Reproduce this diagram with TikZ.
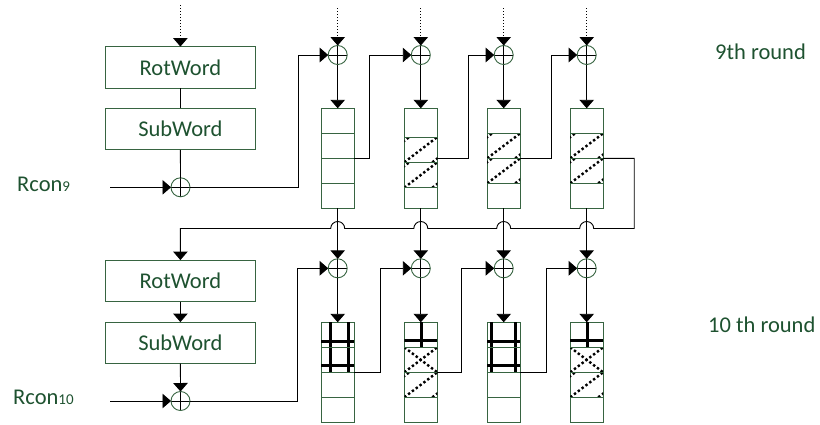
\documentclass[tikz,border=0pt]{standalone}
\usepackage{fontspec}
\setmainfont{Carlito}
\usetikzlibrary{arrows.meta,calc}
\definecolor{tgreen}{RGB}{30,82,48}
\definecolor{bgreen}{RGB}{55,100,65}
\tikzset{
 fnbox/.style={draw=bgreen, line width=1pt, minimum width=149.5pt, minimum height=41.5pt, inner sep=0pt, outer sep=0pt, text=tgreen, font=\fontsize{22.5}{26}\selectfont},
 word/.style={draw=bgreen, line width=1pt, minimum width=33pt, minimum height=100pt, inner sep=0pt, outer sep=0pt},
 xor/.style={circle, draw=bgreen, line width=0.9pt, minimum size=19pt, inner sep=0pt, outer sep=0pt,
   path picture={\draw[black,line width=0.9pt] (path picture bounding box.north) -- (path picture bounding box.south) (path picture bounding box.west) -- (path picture bounding box.east);}},
 wire/.style={line width=0.9pt, black},
 arr/.style={wire, -{Triangle[width=14.5pt,length=8.5pt]}},
 dotarr/.style={arr, line width=0.8pt, dash pattern=on 1pt off 2pt},
 divider/.style={draw=bgreen, line width=1pt},
 hatch/.style={line width=2.4pt, dash pattern=on 2.4pt off 2.4pt},
 gridln/.style={line width=3pt},
 lbl/.style={text=tgreen, font=\fontsize{22.5}{26}\selectfont, inner sep=0pt},
}
\newcommand{\hcell}[3]{%
 \begin{scope}
 \clip ($(#1.north west)+(0,#2)$) rectangle ($(#1.north east)+(0,#3)$);
 \foreach \s in {-28,0,28}
   \draw[hatch] ($(#1.north west)+(\s,#3)$) -- ($(#1.north east)+(\s,#2)$);
 \end{scope}}
\newcommand{\xcell}[3]{%
 \begin{scope}
 \clip ($(#1.north west)+(0,#2)$) rectangle ($(#1.north east)+(0,#3)$);
 \draw[hatch] ($(#1.north west)+(0,#3)$) -- ($(#1.north east)+(0,#2)$);
 \draw[hatch] ($(#1.north west)+(0,#2)$) -- ($(#1.north east)+(0,#3)$);
 \end{scope}}
\newcommand{\gcell}[3]{%
 \begin{scope}
 \clip (#1.north west) rectangle ($(#1.north east)+(0,50)$);
 \draw[gridln] ($(#1.north west)+(#2,0)$) -- ++(0,50) ($(#1.north west)+(#3,0)$) -- ++(0,50)
   ($(#1.north west)+(0,18.7)$) -- ++(33,0) ($(#1.north west)+(0,42.7)$) -- ++(33,0);
 \end{scope}}
\newcommand{\pcell}[1]{%
 \begin{scope}
 \clip (#1.north west) rectangle ($(#1.north east)+(0,25)$);
 \draw[gridln] ($(#1.north)+(1,0)$) -- ++(0,25) ($(#1.north west)+(0,17.7)$) -- ++(33,0);
 \end{scope}}
\newcommand{\divs}[4]{%
 \foreach \o in {#2,#3,#4}
   \draw[divider] ($(#1.north west)+(0,\o)$) -- ($(#1.north east)+(0,\o)$);}
\begin{document}
\begin{tikzpicture}[x=1pt,y=-1pt]
\useasboundingbox (0,0) rectangle (820,424);
% left side
\node[fnbox] (rot1) at (180.4,67.3) {RotWord};
\node[fnbox] (sub1) at (180.4,129) {SubWord};
\node[xor] (r9) at (180.5,187.3) {};
\node[fnbox] (rot2) at (180.4,280.8) {RotWord};
\node[fnbox] (sub2) at (180.4,342.8) {SubWord};
\node[xor] (r10) at (180.5,401) {};
\coordinate (top0) at (180.4,5);
\coordinate (r9in) at (110,187.3);
\coordinate (r10in) at (110,401);
\draw[dotarr] (top0) -- (rot1.north);
\draw[wire] (rot1.south) -- (sub1.north);
\draw[wire] (sub1.south) -- (r9.north);
\draw[arr] (r9in) -- (r9.west);
\draw[arr] (rot2.south) -- (sub2.north);
\draw[arr] (sub2.south) -- (r10.north);
\draw[arr] (r10in) -- (r10.west);
\node[lbl, anchor=base west] (rc9) at (17,191) {Rcon{\fontsize{15}{17}\selectfont 9}};
\node[lbl, anchor=base west] (rc10) at (13,404.7) {Rcon{\fontsize{15}{17}\selectfont 10}};
\node[lbl, anchor=base west] (rd9) at (715,59.3) {9th round};
\node[lbl, anchor=base west] (rd10) at (708,332) {10 th round};
% columns
\foreach \i/\cx in {1/337.7,2/420.8,3/503.7,4/586.7}{
 \node[xor] (x\i) at (\cx,55) {};
 \node[word] (t\i) at (\cx,158.3) {};
 \node[xor] (y\i) at (\cx,268.3) {};
 \node[word] (b\i) at (\cx,372.3) {};
 \coordinate (d\i) at (\cx,8);
 \draw[dotarr] (d\i) -- (x\i.north);
 \draw[arr] (x\i.south) -- (t\i.north);
 \draw[arr] (t\i.south) -- (y\i.north);
 \draw[arr] (y\i.south) -- (b\i.north);
}
% cell patterns
\hcell{t2}{28.7}{54} \hcell{t2}{54}{79.4}
\hcell{t3}{25}{50} \hcell{t3}{50}{75}
\hcell{t4}{25}{50} \hcell{t4}{50}{75}
\gcell{b1}{9}{27} \gcell{b3}{4}{28}
\pcell{b2} \pcell{b4}
\xcell{b2}{25}{50} \xcell{b4}{25}{50}
\hcell{b2}{50}{75} \hcell{b4}{50}{75}
% dividers
\divs{t1}{25}{50}{75}
\divs{t2}{28.7}{54}{79.4}
\divs{t3}{25}{50}{75}
\divs{t4}{25}{50}{75}
\divs{b1}{25}{50}{75}
\divs{b2}{25}{50}{75}
\divs{b3}{25}{50}{75}
\divs{b4}{25}{50}{75}
% chains upper
\draw[arr] (r9.east) -| ($(x1.west)+(-30,0)$) -- (x1.west);
\draw[arr] (t1.east) -| ($(x2.west)+(-42,0)$) -- (x2.west);
\draw[arr] (t2.east) -| ($(x3.west)+(-26,0)$) -- (x3.west);
\draw[arr] (t3.east) -| ($(x4.west)+(-26,0)$) -- (x4.west);
% chains lower
\draw[arr] (r10.east) -| ($(y1.west)+(-30.5,0)$) -- (y1.west);
\draw[arr] (b1.east) -| ($(y2.west)+(-30.6,0)$) -- (y2.west);
\draw[arr] (b2.east) -| ($(y3.west)+(-33,0)$) -- (y3.west);
\draw[arr] (b3.east) -| ($(y4.west)+(-31,0)$) -- (y4.west);
% loop with hops
\coordinate (hy) at (0,228.5);
\draw[arr] (t4.east) -- ++(31,0) |- ($(t4.south |- hy)+(7,0)$)
  arc[start angle=0,end angle=180,radius=7pt] -- ($(t3.south |- hy)+(7,0)$)
  arc[start angle=0,end angle=180,radius=7pt] -- ($(t2.south |- hy)+(7,0)$)
  arc[start angle=0,end angle=180,radius=7pt] -- ($(t1.south |- hy)+(7,0)$)
  arc[start angle=0,end angle=180,radius=7pt] -- (rot2.north |- hy) -- (rot2.north);
\end{tikzpicture}
\end{document}
